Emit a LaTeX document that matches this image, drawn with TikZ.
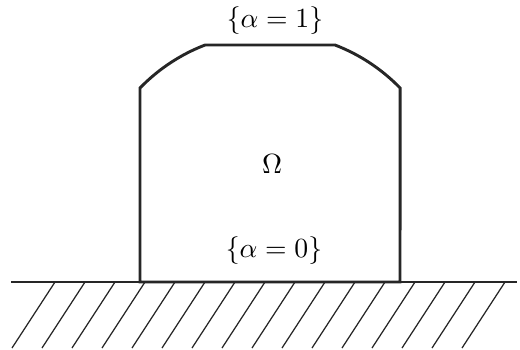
\documentclass[tikz,border=0pt]{standalone}
\usepackage{amsmath}
\usepackage{tikz}

\begin{document}
\begin{tikzpicture}[
  x=0.361pt, y=0.361pt,
  region/.style={draw=black!85, line width=1.05pt, line join=miter},
  ground/.style={draw=black!85, line width=0.45pt},
  hatch/.style={draw=black!85, line width=0.45pt},
  lbl/.style={inner sep=0pt, font=\normalsize}
]
\useasboundingbox (0,0) rectangle (520,349);
% ground and hatching
\coordinate (gl) at (11,67);
\coordinate (gr) at (517,67);
\draw [ground] (gl) -- (gr);
\foreach \x in {55,85,...,505}
  \draw [hatch] (\x,67) -- (\x-43,1);
% region
\draw [region] (140,67) -- (140,261)
  arc[start angle=135.9, end angle=111, radius=65.34pt] -- (335,304)
  arc[start angle=69, end angle=44.1, radius=65.34pt] -- (400,67) -- cycle;
\node (top)   [lbl] at (275,328) {$\{\alpha=1\}$};
\node (omega) [lbl] at (272,185) {$\Omega$};
\node (bot)   [lbl] at (274,98)  {$\{\alpha=0\}$};
\end{tikzpicture}
\end{document}
